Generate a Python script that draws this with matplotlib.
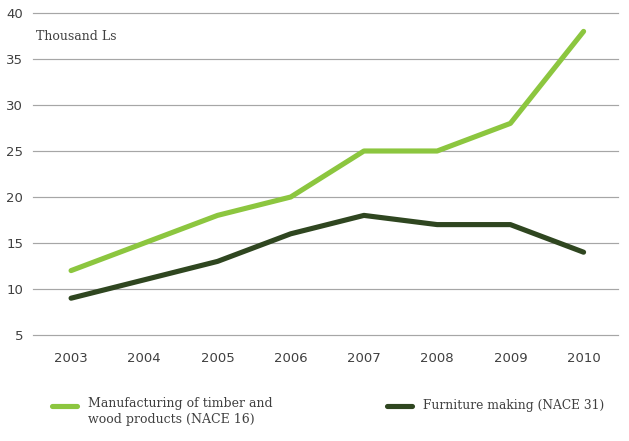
import matplotlib
matplotlib.use("Agg")
import matplotlib.pyplot as plt
from matplotlib.lines import Line2D

years = [2003, 2004, 2005, 2006, 2007, 2008, 2009, 2010]
timber = [12, 15, 18, 20, 25, 25, 28, 38]
furniture = [9, 11, 13, 16, 18, 17, 17, 14]
y_ticks = [5, 10, 15, 20, 25, 30, 35, 40]
unit_label = "Thousand Ls"
series_names = ["Manufacturing of timber and\nwood products (NACE 16)",
                "Furniture making (NACE 31)"]

green = "#8cc63f"
dark = "#2f4620"
grid_col = "#a6a6a6"
text_col = "#404040"
serif = "DejaVu Serif"

W, H = 629, 441
fig = plt.figure(figsize=(W / 100, H / 100), dpi=100)
ax = fig.add_axes([33 / W, 1 - 335 / H, (618 - 33) / W, (335 - 13) / H])

ax.plot(years, timber, color=green, lw=3.7, solid_capstyle="round",
        solid_joinstyle="round", zorder=3)
ax.plot(years, furniture, color=dark, lw=3.7, solid_capstyle="round",
        solid_joinstyle="round", zorder=3)

ax.set_ylim(5, 40)
ax.set_xlim(2002.48, 2010.47)
ax.set_yticks(y_ticks)
ax.set_xticks(years)
ax.yaxis.grid(True, color=grid_col, lw=0.85)
for gl in ax.get_ygridlines():
    gl.set_clip_on(False)
ax.set_axisbelow(True)
for s in ax.spines.values():
    s.set_visible(False)
ax.tick_params(axis="both", length=0, labelsize=9.5, colors=text_col)
ax.tick_params(axis="y", pad=7)
ax.tick_params(axis="x", pad=12)

ax.text(2002.52, 37.4, unit_label, fontsize=9, family=serif,
        color=text_col, va="center", ha="left")

# Legend drawn in figure pixels
def fy(py):
    return 1 - py / H

leg_y = 405.5
fig.add_artist(Line2D([52 / W, 77 / W], [fy(leg_y), fy(leg_y)], color=green,
                      lw=3.7, solid_capstyle="round"))
fig.text(88 / W, fy(397), series_names[0], fontsize=9, family=serif,
         color=text_col, va="top", ha="left", linespacing=1.25)
fig.add_artist(Line2D([387 / W, 412 / W], [fy(leg_y), fy(leg_y)], color=dark,
                      lw=3.7, solid_capstyle="round"))
fig.text(423 / W, fy(405), series_names[1], fontsize=8.8, family=serif,
         color=text_col, va="center", ha="left")

fig.savefig("out.png", dpi=100)
